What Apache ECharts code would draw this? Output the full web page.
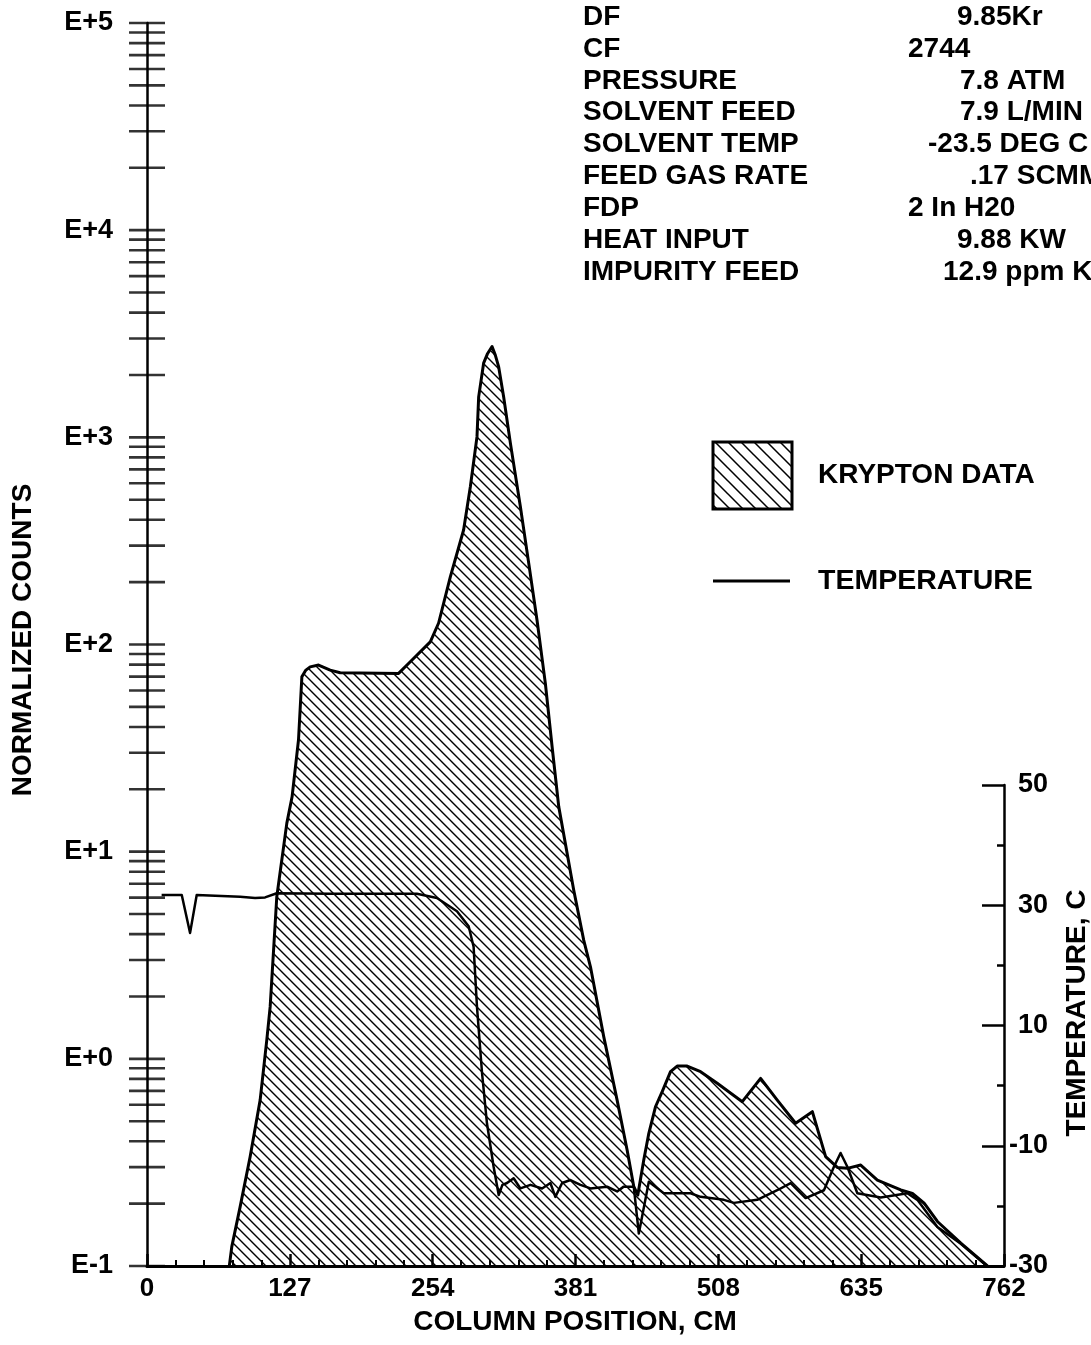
<!DOCTYPE html>
<html>
<head>
<meta charset="utf-8">
<script src="https://cdn.jsdelivr.net/npm/echarts@6/dist/echarts.min.js"></script>
<style>
  html, body { margin: 0; padding: 0; background: #fff; }
  #chart { width: 1091px; height: 1345px; }
</style>
</head>
<body>
<div id="chart"></div>
<script>
// krypton counts along the column (log axis)
const kryptonCm = [73.2, 75.4, 82.8, 91.7, 100.6, 106.5, 109.5, 115.4, 124.3, 129, 134.7, 137.7, 141, 145.1,
  152.5, 162.9, 171.8, 223.7, 234.1, 251.9, 259.3, 269.7, 281.5, 287.5, 293.4, 294.9, 299.3, 302.6, 306.8,
  309.7, 312.7, 317.1, 323.1, 332, 339.4, 346.8, 354.2, 360.2, 366.1, 379.4, 388.3, 394.3, 406.1, 418,
  426.9, 432.8, 436.4, 441.7, 446.2, 452.1, 458.1, 465.5, 471.4, 480.3, 492.2, 507, 529.3, 545.6, 560.4,
  576.7, 591.6, 603.4, 613.8, 622.7, 634.6, 649.4, 670.2, 680.6, 691, 702.8, 723.6, 747.3];
const kryptonCounts = [0.1, 0.124, 0.193, 0.337, 0.632, 1.23, 1.78, 6.06, 13.7, 18.4, 34.6, 69.8, 75, 78,
  79.6, 75.2, 73, 72.5, 82.5, 103, 127, 212, 357, 577, 1005, 1568, 2280, 2523, 2744,
  2493, 2188, 1568, 938, 462, 247, 131, 64.9, 32.1, 16.5, 6.53, 3.74, 2.78, 1.28, 0.632,
  0.363, 0.242, 0.220, 0.325, 0.437, 0.587, 0.695, 0.867, 0.923, 0.923, 0.867, 0.762, 0.621, 0.805, 0.632,
  0.489, 0.556, 0.337, 0.299, 0.296, 0.307, 0.260, 0.233, 0.224, 0.201, 0.164, 0.129, 0.1];

// column temperature, deg C
const tempCm = [13, 30.9, 38.3, 44.2, 82.8, 96.1, 105, 115.4, 162.9, 240, 257.8, 275.6, 286, 290.4, 293.4,
  297.9, 302.3, 308.2, 312.7, 316, 320.1, 326, 332, 340.9, 351.3, 358.7, 363.1, 369.1, 376.5, 385.4, 394.3,
  409.1, 418, 423.9, 432.8, 437.3, 446.2, 459.5, 483.3, 492.2, 512.9, 521.8, 542.6, 560.4, 572.3, 585.6,
  601.9, 610.8, 616.7, 622.7, 631.6, 652.4, 676.1, 685, 702.8, 723.6, 747];
const tempC = [31.7, 31.7, 25.4, 31.7, 31.4, 31.2, 31.3, 32.0, 31.9, 31.9, 31.2, 29.0, 26.5, 23.1, 13.1,
  2.1, -6.3, -13.5, -18.2, -16.5, -16.2, -15.4, -17.1, -16.5, -17.1, -16.2, -18.5, -16.2, -15.7, -16.5, -17.1,
  -16.8, -17.6, -16.8, -16.8, -24.6, -16.0, -17.9, -17.9, -18.5, -19.0, -19.5, -19.0, -17.4, -16.2, -18.7,
  -17.4, -13.5, -11.2, -13.5, -17.9, -18.6, -17.9, -19.0, -23.5, -26.3, -30];

const xTickLabels = ['0', '127', '254', '381', '508', '635', '762'];
const yTickLabels = ['E-1', 'E+0', 'E+1', 'E+2', 'E+3', 'E+4', 'E+5'];
const tempTickLabels = ['-30', '-10', '10', '30', '50'];
const decades = [0.1, 1, 10, 100, 1000, 10000];
const mantissas = [1, 2, 3, 4, 5, 6, 7, 8, 9];

const infoNames = ['DF', 'CF', 'PRESSURE', 'SOLVENT FEED', 'SOLVENT TEMP', 'FEED GAS RATE', 'FDP',
  'HEAT INPUT', 'IMPURITY FEED'];
const infoValues = ['9.85Kr', '2744', '7.8 ATM', '7.9 L/MIN', '-23.5 DEG C', '.17 SCMM', '2 In H20',
  '9.88 KW', '12.9 ppm K'];
const infoValueX = [957, 908, 960, 960, 928, 970, 908, 957, 943];

const FONT = '"Liberation Sans", Arial, Helvetica, sans-serif';

function hatch(step, lw) {
  const c = document.createElement('canvas');
  c.width = c.height = step;
  const g = c.getContext('2d');
  g.strokeStyle = '#000';
  g.lineWidth = lw;
  g.beginPath();
  for (let k = -1; k <= 1; k++) {
    g.moveTo(-1, k * step - 1);
    g.lineTo(step + 1, k * step + step + 1);
  }
  g.stroke();
  return c;
}

function text(x, y, s, size, align, rot) {
  return {
    type: 'text', x, y, rotation: rot || 0, silent: true,
    style: {text: s, fill: '#000', font: `bold ${size}px ${FONT}`, align: align || 'left', verticalAlign: 'middle'}
  };
}

const yTicks = [];
decades.forEach(d => mantissas.forEach(m => yTicks.push([0, +(m * d).toPrecision(3)])));
yTicks.push([0, 100000]);

const labelStyle = {color: '#000', fontFamily: FONT, fontWeight: 'bold'};

const graphics = [
  text(23, 640, 'NORMALIZED COUNTS', 28, 'center', Math.PI / 2),
  text(1077, 1013, 'TEMPERATURE, C', 28, 'center', Math.PI / 2),
  text(575, 1322, 'COLUMN POSITION, CM', 28, 'center'),
  {type: 'rect', shape: {x: 713, y: 442, width: 79, height: 67}, silent: true,
    style: {fill: {type: 'pattern', image: hatch(13, 1.5), repeat: 'repeat'}, stroke: '#000', lineWidth: 3}},
  text(818, 475, 'KRYPTON DATA', 28),
  {type: 'line', shape: {x1: 713, y1: 581, x2: 790, y2: 581}, silent: true, style: {stroke: '#000', lineWidth: 3}},
  text(818, 581, 'TEMPERATURE', 28.5)
];
infoNames.forEach((n, i) => {
  const y = 17 + i * 31.9;
  graphics.push(text(583, y, n, 28));
  graphics.push(text(infoValueX[i], y, infoValues[i], 28));
});

const chart = echarts.init(document.getElementById('chart'), null, {renderer: 'canvas'});
chart.setOption({
  animation: false,
  backgroundColor: '#fff',
  grid: [
    {left: 147, right: 87, top: 23, bottom: 79},
    {left: 147, right: 87, top: 785, bottom: 79}
  ],
  xAxis: [{
    gridIndex: 0, type: 'value', min: 0, max: 762, interval: 127,
    axisLine: {lineStyle: {color: '#000', width: 3}},
    axisTick: {inside: true, length: 12, lineStyle: {color: '#000', width: 2.5}},
    minorTick: {show: true, splitNumber: 5, length: 6, lineStyle: {color: '#000', width: 2}},
    splitLine: {show: false},
    axisLabel: Object.assign({fontSize: 26, margin: 10,
      formatter: v => xTickLabels[Math.round(v / 127)]}, labelStyle)
  }, {
    gridIndex: 1, type: 'value', min: 0, max: 762, show: false
  }],
  yAxis: [{
    gridIndex: 0, type: 'log', logBase: 10, min: 0.1, max: 100000, interval: 1,
    axisLine: {show: true, onZero: false, lineStyle: {color: '#000', width: 2.5}},
    axisTick: {show: false},
    splitLine: {show: false},
    axisLabel: Object.assign({fontSize: 27, margin: 34,
      formatter: v => yTickLabels[Math.round(Math.log10(v)) + 1]}, labelStyle)
  }, {
    gridIndex: 1, type: 'value', position: 'right', min: -30, max: 50, interval: 20,
    axisLine: {show: true, onZero: false, lineStyle: {color: '#000', width: 2.5}},
    axisTick: {inside: true, length: 22, lineStyle: {color: '#000', width: 2.5}},
    minorTick: {show: true, splitNumber: 2, length: 7, lineStyle: {color: '#000', width: 2.5}},
    splitLine: {show: false},
    axisLabel: Object.assign({fontSize: 27, margin: 44, align: 'right',
      formatter: v => tempTickLabels[Math.round((v + 30) / 20)]}, labelStyle)
  }],
  series: [{
    name: 'KRYPTON DATA', type: 'line', xAxisIndex: 0, yAxisIndex: 0,
    data: kryptonCm.map((x, i) => [x, kryptonCounts[i]]),
    symbol: 'none', z: 2,
    lineStyle: {color: '#000', width: 3, join: 'round'},
    areaStyle: {color: {type: 'pattern', image: hatch(10, 1.4), repeat: 'repeat'}, opacity: 1, origin: 'start'}
  }, {
    name: 'TEMPERATURE', type: 'line', xAxisIndex: 1, yAxisIndex: 1,
    data: tempCm.map((x, i) => [x, tempC[i]]),
    symbol: 'none', z: 3,
    lineStyle: {color: '#000', width: 2.5, join: 'round'}
  }, {
    name: 'ticks', type: 'scatter', xAxisIndex: 0, yAxisIndex: 0,
    data: yTicks, symbol: 'rect', symbolSize: [36, 2.6], clip: false, silent: true, z: 5,
    itemStyle: {color: '#000'}
  }],
  graphic: graphics
});
</script>
</body>
</html>
